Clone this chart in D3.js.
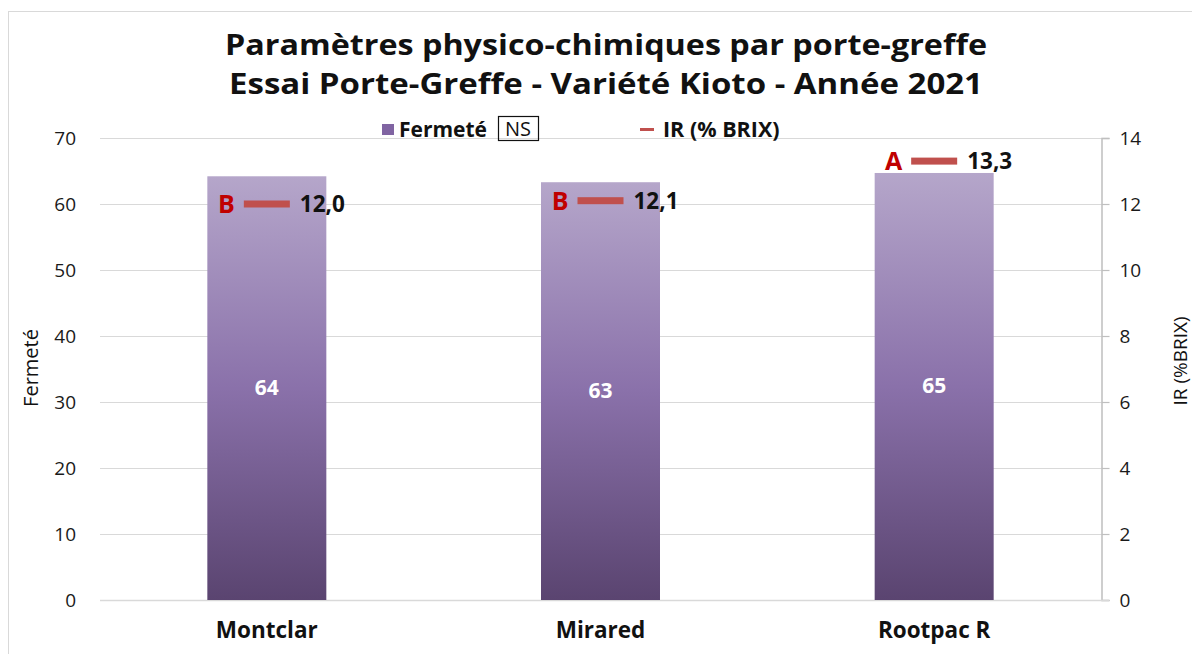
<!DOCTYPE html>
<html>
<head>
<meta charset="utf-8">
<script src="https://cdn.jsdelivr.net/npm/d3@7"></script>
<style>
  body { margin: 0; background: #fff; }
  svg { display: block; font-family: "Open Sans", "DejaVu Sans", sans-serif; }
</style>
</head>
<body>
<div id="chart"></div>
<script>
// Data
const categories = ["Montclar", "Mirared", "Rootpac R"];
const fermete = [64.2, 63.3, 64.7];
const fermeteLabels = ["64", "63", "65"];
const brix = [12.0, 12.1, 13.3];
const brixLabels = ["12,0", "12,1", "13,3"];
const groups = ["B", "B", "A"];
const leftTicks = [0, 10, 20, 30, 40, 50, 60, 70];
const rightTicks = [0, 2, 4, 6, 8, 10, 12, 14];
const titleLines = ["Paramètres physico-chimiques par porte-greffe", "Essai Porte-Greffe - Variété Kioto - Année 2021"];
const titleWidths = [762, 754];

const width = 1192, height = 654;
const plot = { left: 100, right: 1101, top: 138, bottom: 600 };

const svg = d3.select("#chart").append("svg")
    .attr("width", width)
    .attr("height", height);

// Chart frame
svg.append("rect")
    .attr("x", 8.5).attr("y", 11.5)
    .attr("width", 1200).attr("height", 700)
    .attr("fill", "none")
    .attr("stroke", "#d9d9d9");

// Scales
const x = d3.scaleBand().domain(categories).range([plot.left, plot.right]).padding(0);
const yLeft = d3.scaleLinear().domain([0, 70]).range([plot.bottom, plot.top]);
const yRight = d3.scaleLinear().domain([0, 14]).range([plot.bottom, plot.top]);
const barW = 119;

// Gradient
const defs = svg.append("defs");
const grad = defs.append("linearGradient")
    .attr("id", "barGrad")
    .attr("x1", "0%").attr("y1", "0%").attr("x2", "0%").attr("y2", "100%");
grad.append("stop").attr("offset", "0%").attr("stop-color", "#b5a6ca");
grad.append("stop").attr("offset", "50%").attr("stop-color", "#8a71aa");
grad.append("stop").attr("offset", "100%").attr("stop-color", "#5a4470");

// Gridlines
svg.append("g")
    .selectAll("line")
    .data(leftTicks)
    .enter()
    .append("line")
    .attr("x1", plot.left)
    .attr("x2", plot.right)
    .attr("y1", d => Math.round(yLeft(d)) + 0.5)
    .attr("y2", d => Math.round(yLeft(d)) + 0.5)
    .attr("stroke", "#d9d9d9")
    .attr("stroke-width", 1.2);

// Left axis (labels only)
const leftAxis = svg.append("g")
    .attr("transform", `translate(${plot.left},0)`)
    .call(d3.axisLeft(yLeft).tickValues(leftTicks).tickSize(0).tickPadding(24));
leftAxis.select(".domain").remove();
leftAxis.selectAll("text")
    .attr("font-size", 19)
    .attr("fill", "#1a1a1a")
    .attr("font-family", "Open Sans, sans-serif");

// Right axis
const rightAxis = svg.append("g")
    .attr("transform", `translate(${plot.right + 0.5},0)`)
    .call(d3.axisRight(yRight).tickValues(rightTicks).tickSize(8).tickPadding(10));
rightAxis.select(".domain").attr("stroke", "#bfbfbf").attr("stroke-width", 1.5);
rightAxis.selectAll(".tick line").attr("stroke", "#bfbfbf").attr("stroke-width", 1.2);
rightAxis.selectAll("text")
    .attr("font-size", 19)
    .attr("fill", "#1a1a1a")
    .attr("font-family", "Open Sans, sans-serif");

// Bottom axis line
svg.append("line")
    .attr("x1", plot.left).attr("x2", plot.right + 8)
    .attr("y1", plot.bottom + 0.5).attr("y2", plot.bottom + 0.5)
    .attr("stroke", "#d9d9d9")
    .attr("stroke-width", 1.5);

// Bars
const barData = categories.map((c, i) => ({ cat: c, v: fermete[i], label: fermeteLabels[i] }));
svg.append("g")
    .selectAll("rect")
    .data(barData)
    .enter()
    .append("rect")
    .attr("x", d => x(d.cat) + (x.bandwidth() - barW) / 2)
    .attr("y", d => yLeft(d.v))
    .attr("width", barW)
    .attr("height", d => yLeft(0) - yLeft(d.v))
    .attr("fill", "url(#barGrad)");

// Bar value labels
svg.append("g")
    .selectAll("text")
    .data(barData)
    .enter()
    .append("text")
    .attr("x", d => x(d.cat) + x.bandwidth() / 2)
    .attr("y", d => yLeft(d.v / 2) + 7)
    .attr("text-anchor", "middle")
    .attr("font-size", 21)
    .attr("font-weight", "bold")
    .attr("fill", "#ffffff")
    .text(d => d.label);

// IR markers
const irData = categories.map((c, i) => ({ cat: c, v: brix[i], label: brixLabels[i], grp: groups[i] }));
const ir = svg.append("g");
ir.selectAll("rect")
    .data(irData)
    .enter()
    .append("rect")
    .attr("x", d => x(d.cat) + x.bandwidth() / 2 - 23)
    .attr("y", d => yRight(d.v) - 3.5)
    .attr("width", 46)
    .attr("height", 7)
    .attr("fill", "#c0504d");

ir.selectAll(".val")
    .data(irData)
    .enter()
    .append("text")
    .attr("class", "val")
    .attr("x", d => x(d.cat) + x.bandwidth() / 2 + 33)
    .attr("y", d => yRight(d.v) + 8)
    .attr("font-size", 22.5)
    .attr("font-weight", "bold")
    .attr("fill", "#111")
    .text(d => d.label);

ir.selectAll(".grp")
    .data(irData)
    .enter()
    .append("text")
    .attr("class", "grp")
    .attr("x", d => x(d.cat) + x.bandwidth() / 2 - 32)
    .attr("y", d => yRight(d.v) + 9)
    .attr("text-anchor", "end")
    .attr("font-size", 25)
    .attr("font-weight", "bold")
    .attr("fill", "#c00000")
    .text(d => d.grp);

// Category labels
svg.append("g")
    .selectAll("text")
    .data(categories)
    .enter()
    .append("text")
    .attr("x", d => x(d) + x.bandwidth() / 2)
    .attr("y", 638)
    .attr("text-anchor", "middle")
    .attr("font-size", 22.5)
    .attr("font-weight", "bold")
    .attr("fill", "#111")
    .text(d => d);

// Axis titles
svg.append("text")
    .attr("transform", "translate(38,368) rotate(-90)")
    .attr("text-anchor", "middle")
    .attr("font-size", 20)
    .attr("fill", "#111")
    .text("Fermeté");

svg.append("text")
    .attr("transform", "translate(1187,361) rotate(-90)")
    .attr("text-anchor", "middle")
    .attr("font-size", 19)
    .attr("fill", "#111")
    .text("IR (%BRIX)");

// Title (stretched to match the original width)
svg.append("g")
    .selectAll("text")
    .data(titleLines)
    .enter()
    .append("text")
    .attr("x", (d, i) => 606 - titleWidths[i] / 2)
    .attr("y", (d, i) => 55 + i * 39)
    .attr("font-size", 28)
    .attr("font-weight", "bold")
    .attr("fill", "#111")
    .attr("textLength", (d, i) => titleWidths[i])
    .attr("lengthAdjust", "spacingAndGlyphs")
    .text(d => d);

// Legend
const legend = svg.append("g");
legend.append("rect")
    .attr("x", 382).attr("y", 124)
    .attr("width", 12).attr("height", 11)
    .attr("fill", "#8064a2");
legend.append("text")
    .attr("x", 399).attr("y", 137)
    .attr("font-size", 21)
    .attr("font-weight", "bold")
    .attr("fill", "#111")
    .text("Fermeté");
legend.append("rect")
    .attr("x", 498.5).attr("y", 116.5)
    .attr("width", 40).attr("height", 24)
    .attr("fill", "none")
    .attr("stroke", "#111")
    .attr("stroke-width", 1.2);
legend.append("text")
    .attr("x", 518).attr("y", 136)
    .attr("text-anchor", "middle")
    .attr("font-size", 20)
    .attr("fill", "#111")
    .text("NS");
legend.append("line")
    .attr("x1", 640).attr("x2", 654)
    .attr("y1", 129.5).attr("y2", 129.5)
    .attr("stroke", "#c0504d")
    .attr("stroke-width", 3);
legend.append("text")
    .attr("x", 663).attr("y", 137)
    .attr("font-size", 21.5)
    .attr("font-weight", "bold")
    .attr("fill", "#111")
    .text("IR (% BRIX)");
</script>
</body>
</html>
